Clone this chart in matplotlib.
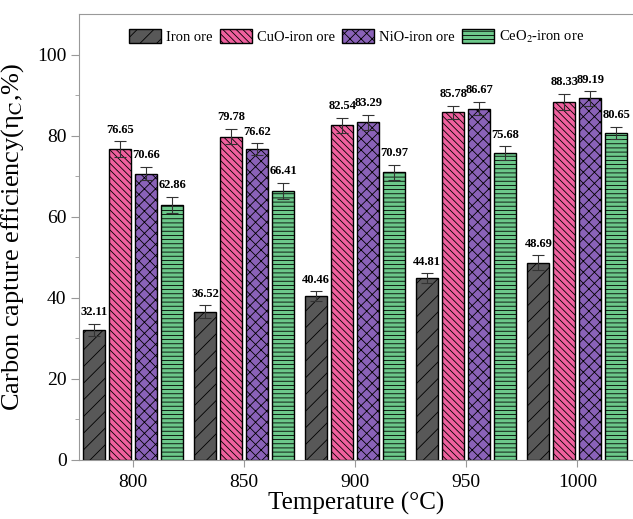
import matplotlib
matplotlib.use("Agg")
import matplotlib.pyplot as plt
import numpy as np

plt.rcParams['font.family'] = ['Liberation Serif', 'DejaVu Serif']
plt.rcParams['mathtext.fontset'] = 'stix'
plt.rcParams['hatch.linewidth'] = 0.6

temps = ['800', '850', '900', '950', '1000']
series = ['Iron ore', 'CuO-iron ore', 'NiO-iron ore', 'CeO$_2$-iron ore']
iron = [32.11, 36.52, 40.46, 44.81, 48.69]
cuo = [76.65, 79.78, 82.54, 85.78, 88.33]
nio = [70.66, 76.62, 83.29, 86.67, 89.19]
ceo2 = [62.86, 66.41, 70.97, 75.68, 80.65]
iron_err = [1.5, 1.6, 1.2, 1.2, 1.8]
cuo_err = [2.0, 1.9, 1.9, 1.6, 2.0]
nio_err = [1.6, 1.5, 1.9, 1.7, 1.8]
ceo2_err = [2.0, 2.0, 1.9, 1.7, 1.6]

colors = ['#585858', '#f0609e', '#8a62b8', '#6cc88a']
hatches = ['//', '\\\\\\\\\\', 'xxx', '----']

fig = plt.figure(figsize=(6.33, 5.19), dpi=100)
ax = fig.add_axes([79 / 633, 59 / 519, 555 / 633, 446 / 519])

x = np.arange(len(temps))
step = 0.234
width = 0.198
values = [iron, cuo, nio, ceo2]
errs = [iron_err, cuo_err, nio_err, ceo2_err]
for i, (vals, err) in enumerate(zip(values, errs)):
    pos = x + (i - 1.5) * step
    ax.bar(pos, vals, width, color=colors[i], edgecolor='black', linewidth=1.0,
           hatch=hatches[i], label=series[i],
           yerr=err, capsize=4, error_kw=dict(ecolor='#333333', elinewidth=0.8, capthick=0.8))
    for p, v, e in zip(pos, vals, err):
        ax.annotate('%.2f' % v, (p, v + e), xytext=(0, 4), textcoords='offset points',
                    ha='center', va='bottom', fontsize=9, fontweight='bold')

ax.set_xlim(-0.487, 4.51)
ax.set_ylim(0, 110)
ax.set_xticks(x)
ax.set_xticklabels(temps)
ax.set_yticks(np.arange(0, 101, 20))
ax.set_yticks(np.arange(10, 110, 20), minor=True)
ax.tick_params(axis='both', labelsize=14, color='#999999', direction='out')
ax.tick_params(axis='y', which='major', length=6, pad=3)
ax.tick_params(axis='y', which='minor', length=3, color='#999999')
ax.tick_params(axis='x', length=5, pad=5)
for s in ['left', 'top', 'bottom']:
    ax.spines[s].set_color('#999999')
ax.spines['right'].set_visible(False)

ax.set_ylabel('Carbon capture efficiency(η$_\\mathrm{C}$,%)', fontsize=19, labelpad=8)
ax.set_xlabel('Temperature (°C)', fontsize=18, labelpad=1)

ax.legend(loc='upper center', bbox_to_anchor=(0.5, 0.995), ncol=4, frameon=False,
          fontsize=10.5, handlelength=2.2, handleheight=1.1, columnspacing=0.5,
          handletextpad=0.35)

plt.savefig('out.png', dpi=100)
